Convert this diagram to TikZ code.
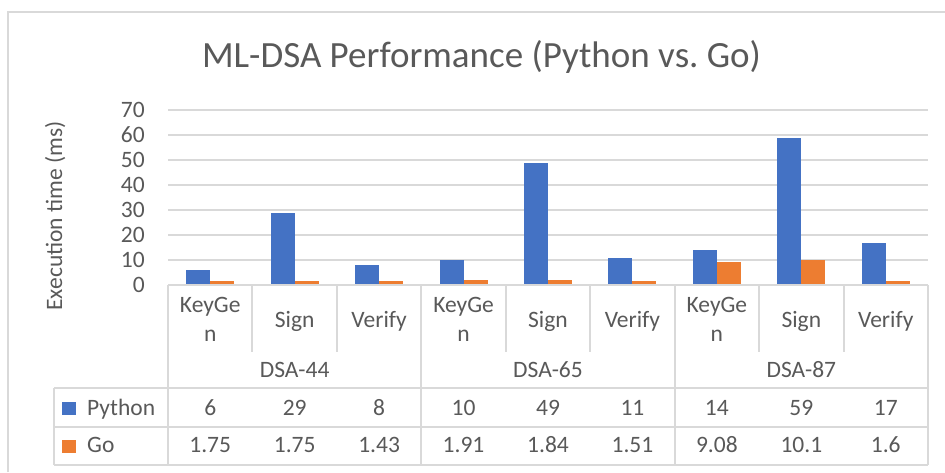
\documentclass[tikz,border=0pt]{standalone}
\usepackage{fontspec}
\setmainfont{Carlito}
\definecolor{txt}{HTML}{595959}
\definecolor{gridc}{HTML}{D9D9D9}
\definecolor{pyblue}{HTML}{4472C4}
\definecolor{goorange}{HTML}{ED7D31}
\begin{document}
\begin{tikzpicture}[x=1pt,y=-1pt,
  lbl/.style={font=\fontsize{23.5}{28}\selectfont, text=txt, inner sep=0pt},
  gridline/.style={draw=gridc, line width=1.5pt},
  tabline/.style={draw=gridc, line width=2pt},
  pybar/.style={fill=pyblue},
  gobar/.style={fill=goorange}]
\useasboundingbox (0,0) rectangle (945,472);
\fill[white] (0,0) rectangle (945,472);
% chart frame
\draw[gridline] (8,472) -- (8,12) -- (945,12);

% title
\node[lbl, font=\fontsize{37}{44}\selectfont, anchor=base] (title) at (481.5,67)
  {ML-DSA Performance (Python vs.\ Go)};

% axis title
\node[lbl, rotate=90, anchor=base] (ytitle) at (62,216) {Execution time (ms)};

% horizontal gridlines
\foreach \v in {1,...,7}
  \draw[gridline] (168,{285-25*\v}) -- (928,{285-25*\v});

% y tick labels
\foreach \v/\t in {0/0,1/10,2/20,3/30,4/40,5/50,6/60,7/70}
  \node[lbl, anchor=base east] (yt\v) at (145,{292.5-25*\v}) {\t};

% bars and data table values
\foreach \i/\p/\g in {0/6/1.75, 1/29/1.75, 2/8/1.43, 3/10/1.91, 4/49/1.84,
                      5/11/1.51, 6/14/9.08, 7/59/10.1, 8/17/1.6} {
  \fill[pybar] ({168+84.444*\i+18.2},285) rectangle ++(24,{-2.5*\p});
  \fill[gobar] ({168+84.444*\i+42.2},285) rectangle ++(24,{-2.5*\g});
  \node[lbl, anchor=base] (pv\i) at ({168+84.444*(\i+0.5)},415) {\p};
  \node[lbl, anchor=base] (gv\i) at ({168+84.444*(\i+0.5)},452.5) {\g};
}

% category labels
\foreach \k in {0,3,6} {
  \node[lbl, anchor=base] (kga\k) at ({168+84.444*(\k+0.5)},312) {KeyGe};
  \node[lbl, anchor=base] (kgb\k) at ({168+84.444*(\k+0.5)},341.5) {n};
  \node[lbl, anchor=base] (sg\k) at ({168+84.444*(\k+1.5)},327) {Sign};
  \node[lbl, anchor=base] (vf\k) at ({168+84.444*(\k+2.5)},327) {Verify};
}

% group labels
\node[lbl, anchor=base] (g44) at ({168+84.444*1.5},377) {DSA-44};
\node[lbl, anchor=base] (g65) at ({168+84.444*4.5},377) {DSA-65};
\node[lbl, anchor=base] (g87) at ({168+84.444*7.5},377) {DSA-87};

% data table rules
\draw[tabline] (168,285) -- (928,285);
\foreach \x in {168,421.33,674.67,928}
  \draw[tabline] (\x,285) -- (\x,465);
\foreach \x in {252.44,336.89,505.78,590.22,759.11,843.56}
  \draw[tabline] (\x,285) -- (\x,352);
\draw[tabline] (54,388) -- (928,388);
\draw[tabline] (54,427) -- (928,427);
\draw[tabline] (54,465) -- (928,465);
\draw[tabline] (54,388) -- (54,465);

% legend keys
\fill[pyblue] (62,402) rectangle (76,415);
\node[lbl, anchor=base west] (lpy) at (87,415) {Python};
\fill[goorange] (62,440) rectangle (76,453);
\node[lbl, anchor=base west] (lgo) at (87,452.5) {Go};
\end{tikzpicture}
\end{document}
